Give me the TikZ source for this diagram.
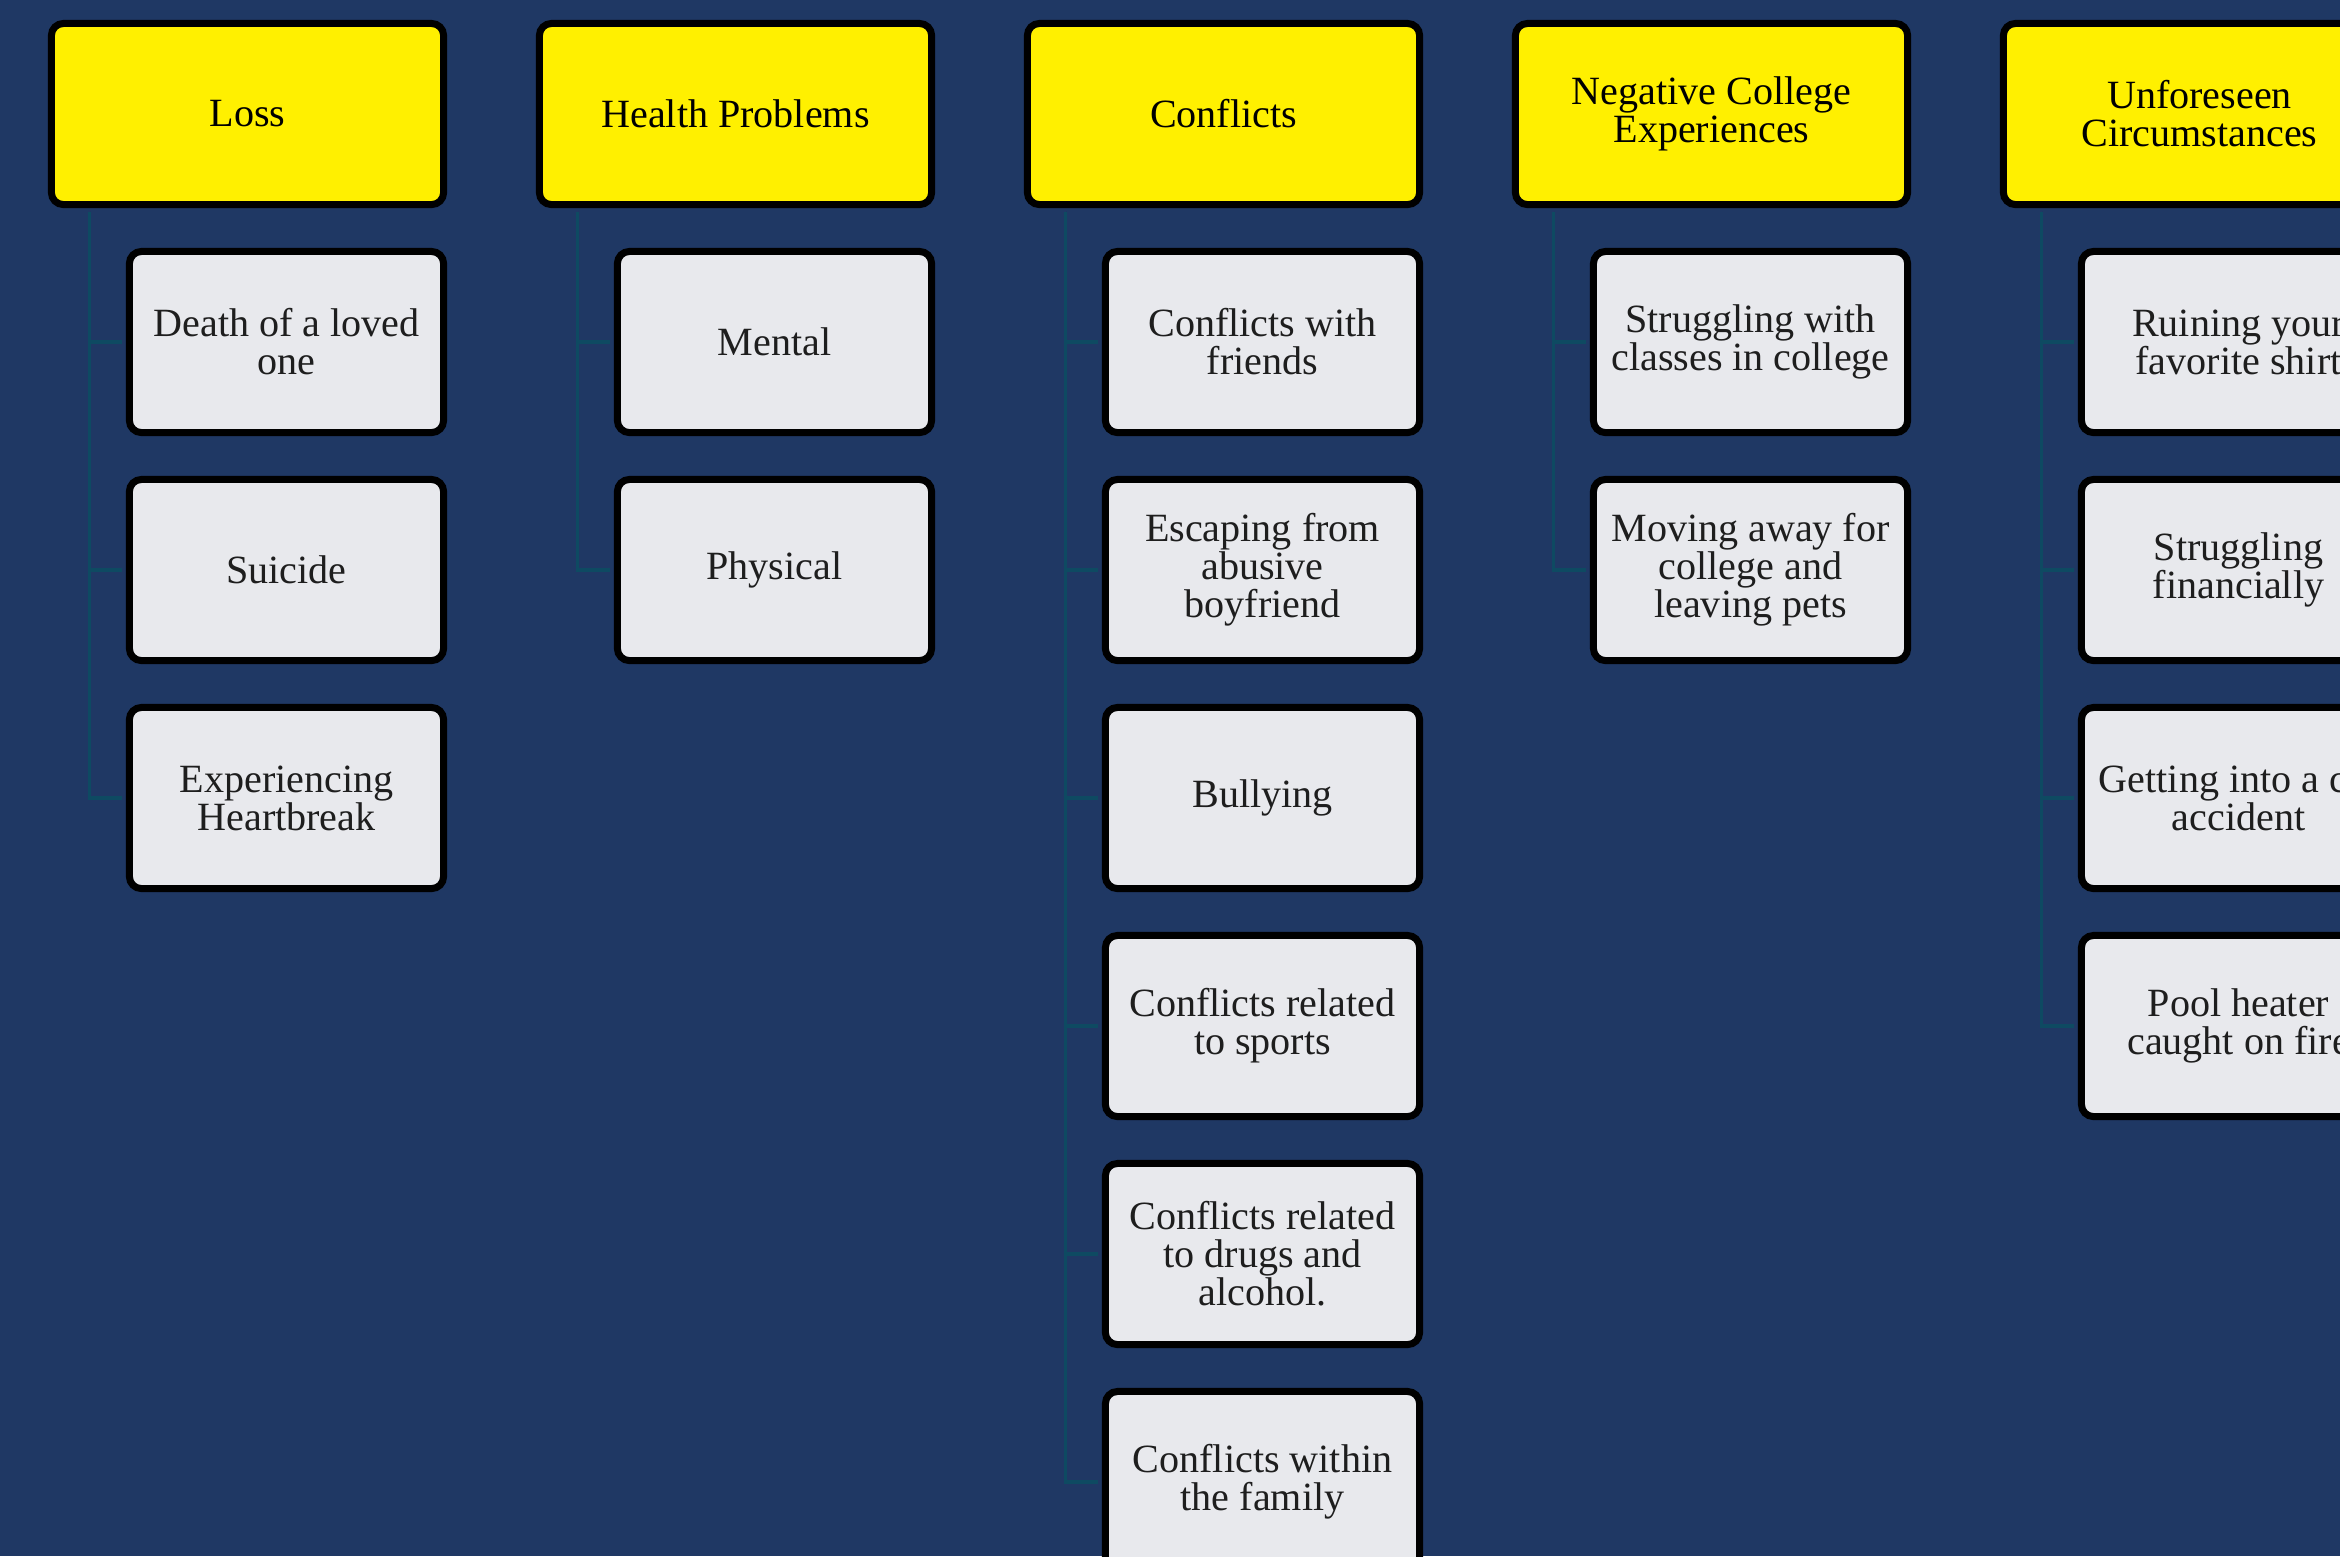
\documentclass[tikz,border=0pt]{standalone}
\usepackage{fontspec}
\setmainfont{Liberation Serif}
\usepackage{xcolor}
\usepackage{tikz}
\usetikzlibrary{positioning,calc}

\definecolor{navy}{RGB}{31,56,100}
\definecolor{headyellow}{RGB}{255,240,0}
\definecolor{subgray}{RGB}{232,233,237}
\definecolor{linkteal}{RGB}{14,74,98}
\definecolor{subtext}{RGB}{30,30,30}

\begin{document}
\begin{tikzpicture}[x=0.01cm,y=-0.01cm,
  every node/.style={font=\fontsize{11.4}{10.8}\selectfont,align=center},
  catbox/.style={draw=black,line width=0.07cm,rounded corners=0.12cm,fill=headyellow,
    minimum width=3.92cm,minimum height=1.81cm,inner sep=0pt},
  subbox/.style={catbox,fill=subgray,text=subtext,minimum width=3.14cm},
  link/.style={draw=linkteal,line width=0.035cm,shorten <=0.035cm,shorten >=0.035cm}]
  \useasboundingbox (0,0) rectangle (2340,1556);
  \clip (0,0) rectangle (2340,1556);
  \fill[navy] (0,0) rectangle (2340,1556);

  \node[catbox] (loss) at (247.5,114) {Loss};
  \node[catbox] (health) at (735.5,114) {Health Problems};
  \node[catbox] (conflicts) at (1223.5,114) {Conflicts};
  \node[catbox] (college) at (1711.5,114) {Negative College\\Experiences};
  \node[catbox] (unforeseen) at (2199.5,114) {Unforeseen\\Circumstances};

  \node[subbox] (death) at (286.5,342) {Death of a loved\\one};
  \node[subbox] (suicide) at (286.5,570) {Suicide};
  \node[subbox] (heartbreak) at (286.5,798) {Experiencing\\Heartbreak};

  \node[subbox] (mental) at (774.5,342) {Mental};
  \node[subbox] (physical) at (774.5,570) {Physical};

  \node[subbox] (friends) at (1262.5,342) {Conflicts with\\friends};
  \node[subbox] (abusive) at (1262.5,570) {Escaping from\\abusive\\boyfriend};
  \node[subbox] (bullying) at (1262.5,798) {Bullying};
  \node[subbox] (sports) at (1262.5,1026) {Conflicts related\\to sports};
  \node[subbox] (drugs) at (1262.5,1254) {Conflicts related\\to drugs and\\alcohol.};
  \node[subbox] (family) at (1262.5,1482) {Conflicts within\\the family};

  \node[subbox] (classes) at (1750.5,342) {Struggling with\\classes in college};
  \node[subbox] (pets) at (1750.5,570) {Moving away for\\college and\\leaving pets};

  \node[subbox] (shirt) at (2238.5,342) {Ruining your\\favorite shirt};
  \node[subbox] (money) at (2238.5,570) {Struggling\\financially};
  \node[subbox] (accident) at (2238.5,798) {Getting into a car\\accident};
  \node[subbox] (heater) at (2238.5,1026) {Pool heater\\caught on fire};

  \coordinate (loss-t) at ([xshift=0.415cm]loss.south west);
  \coordinate (health-t) at ([xshift=0.415cm]health.south west);
  \coordinate (conflicts-t) at ([xshift=0.415cm]conflicts.south west);
  \coordinate (college-t) at ([xshift=0.415cm]college.south west);
  \coordinate (unforeseen-t) at ([xshift=0.415cm]unforeseen.south west);

  \draw[link] (loss-t) |- (death.west);
  \draw[link] (loss-t) |- (suicide.west);
  \draw[link] (loss-t) |- (heartbreak.west);
  \draw[link] (health-t) |- (mental.west);
  \draw[link] (health-t) |- (physical.west);
  \draw[link] (conflicts-t) |- (friends.west);
  \draw[link] (conflicts-t) |- (abusive.west);
  \draw[link] (conflicts-t) |- (bullying.west);
  \draw[link] (conflicts-t) |- (sports.west);
  \draw[link] (conflicts-t) |- (drugs.west);
  \draw[link] (conflicts-t) |- (family.west);
  \draw[link] (college-t) |- (classes.west);
  \draw[link] (college-t) |- (pets.west);
  \draw[link] (unforeseen-t) |- (shirt.west);
  \draw[link] (unforeseen-t) |- (money.west);
  \draw[link] (unforeseen-t) |- (accident.west);
  \draw[link] (unforeseen-t) |- (heater.west);
\end{tikzpicture}
\end{document}
